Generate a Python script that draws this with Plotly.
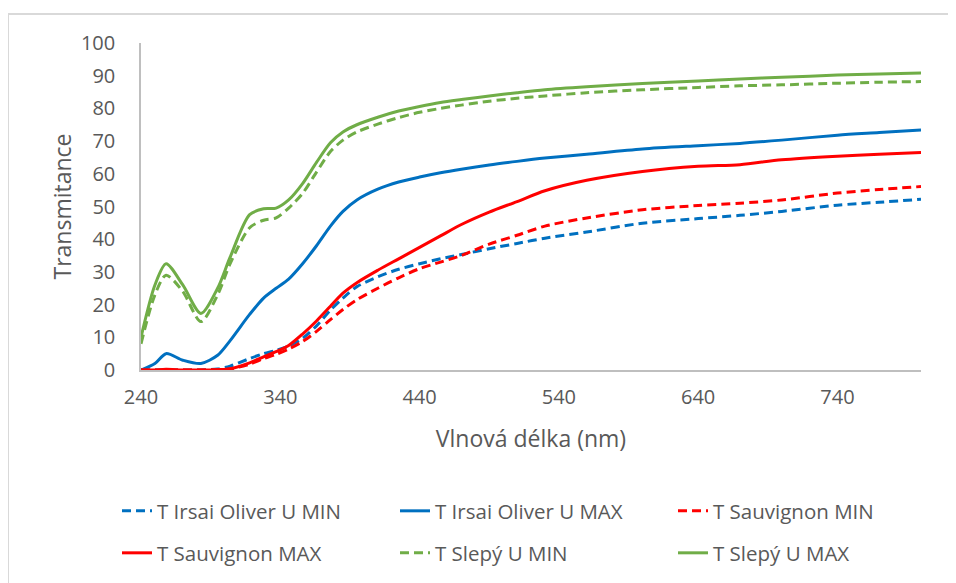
import plotly.graph_objects as go

# Wavelength grid (nm)
wavelength = [240, 250, 258, 270, 283, 295, 304, 318, 328, 337, 346, 356, 366, 376, 385, 395,
              410, 425, 440, 455, 470, 490, 510, 530, 560, 600, 640, 670, 700, 740, 770, 800]

irsai_min = [0, 0, 0, 0, 0, 0.3, 1.2, 3.5, 5.0, 6.0, 7.3, 9.7, 13.5, 18.3, 22.0, 25.5,
             28.5, 30.8, 32.5, 34.0, 35.3, 37.1, 38.7, 40.3, 42.2, 44.9, 46.3, 47.3, 48.5, 50.4, 51.3, 52.2]
irsai_max = [0, 2.0, 5.0, 3.0, 2.0, 4.5, 9.0, 17.0, 22.0, 25.0, 27.8, 32.5, 38.0, 44.0, 48.5, 52.0,
             55.3, 57.5, 59.0, 60.3, 61.4, 62.7, 63.8, 64.8, 66.0, 67.6, 68.6, 69.3, 70.3, 71.8, 72.6, 73.4]
sauv_min = [0, 0, 0, 0, 0, 0.1, 0.3, 1.8, 3.5, 4.8, 6.4, 8.7, 11.8, 15.4, 18.5, 21.5,
            25.0, 28.2, 31.0, 33.0, 35.0, 38.5, 41.2, 44.0, 46.5, 49.0, 50.3, 51.0, 52.0, 54.1, 55.2, 56.1]
sauv_max = [0, 0, 0.2, 0, 0, 0.1, 0.4, 2.2, 4.0, 5.6, 7.5, 11.0, 15.0, 19.5, 23.5, 26.7,
            30.5, 34.0, 37.5, 41.0, 44.5, 48.3, 51.5, 54.8, 58.0, 60.7, 62.3, 62.8, 64.3, 65.4, 66.0, 66.5]
slepy_min = [8.0, 23.0, 29.0, 24.0, 14.8, 23.0, 32.5, 43.5, 45.8, 46.5, 49.5, 54.0, 60.5, 66.8, 70.3, 72.8,
             75.2, 77.2, 78.8, 80.0, 81.0, 82.2, 83.1, 83.8, 84.8, 85.7, 86.4, 86.9, 87.2, 87.7, 88.0, 88.2]
slepy_max = [10.0, 26.0, 32.5, 26.0, 17.3, 25.0, 34.5, 47.5, 49.3, 49.5, 52.0, 57.0, 63.5, 69.5, 72.8, 75.0,
             77.3, 79.2, 80.6, 81.8, 82.7, 83.8, 84.8, 85.7, 86.6, 87.6, 88.4, 89.0, 89.5, 90.2, 90.5, 90.8]

x_ticks = [240, 340, 440, 540, 640, 740]
y_ticks = list(range(0, 101, 10))

BLUE = "#0070C0"
RED = "#FF0000"
GREEN = "#70AD47"
DASH = "9px,5px"
FONT = "Open Sans"
TXT = "#595959"

# The page body has an 8px default margin; the figure is sized to fill the rest of the window.
OFF = 8
W, H = 956 - OFF, 583 - OFF
L, R, T, B = 141 - OFF, 35, 43 - OFF, 213
pw, ph = W - L - R, H - T - B

def px_x(p):  # page pixel -> paper x
    return (p - OFF - L) / pw

def px_y(p):  # page pixel -> paper y
    return (H - B - (p - OFF)) / ph

# (name, values, colour, dash, legend text left x px, legend row centre y px)
series = [
    ("T Irsai Oliver U MIN", irsai_min, BLUE, DASH, 157, 511),
    ("T Irsai Oliver U MAX", irsai_max, BLUE, "solid", 435, 511),
    ("T Sauvignon MIN", sauv_min, RED, DASH, 713, 511),
    ("T Sauvignon MAX", sauv_max, RED, "solid", 157, 553),
    ("T Slepý U MIN", slepy_min, GREEN, DASH, 435, 553),
    ("T Slepý U MAX", slepy_max, GREEN, "solid", 713, 553),
]

fig = go.Figure()
legends = {}
for i, (name, vals, col, dash, lx, ly) in enumerate(series):
    key = f"legend{i + 2}"
    fig.add_trace(go.Scatter(
        x=wavelength, y=vals, name=name, mode="lines", legend=key,
        line=dict(color=col, width=3, dash=dash, shape="spline", smoothing=0.8),
    ))
    legends[key] = dict(
        x=px_x(lx - 40), y=px_y(ly), xanchor="left", yanchor="middle",
        orientation="h", font=dict(family=FONT, size=20.5, color=TXT),
        bgcolor="rgba(0,0,0,0)", itemwidth=30,
    )

border = dict(color="#D9D9D9", width=2)
fig.update_layout(
    width=W, height=H,
    margin=dict(l=L, r=R, t=T, b=B, autoexpand=False),
    paper_bgcolor="white", plot_bgcolor="white",
    font=dict(family=FONT, color=TXT),
    showlegend=True,
    xaxis=dict(
        range=[240, 800], tickvals=x_ticks, ticktext=[str(v) for v in x_ticks],
        showgrid=False, zeroline=False, showline=True, linecolor="#BFBFBF", linewidth=1.5,
        ticks="", ticklabelstandoff=8, tickfont=dict(family=FONT, size=20, color=TXT),
        title=dict(text="Vlnová délka (nm)", font=dict(family=FONT, size=23, color=TXT), standoff=22),
    ),
    yaxis=dict(
        range=[0, 100], tickvals=y_ticks,
        showgrid=False, zeroline=False, showline=True, linecolor="#BFBFBF", linewidth=1.5,
        ticks="", ticklabelstandoff=20, tickfont=dict(family=FONT, size=20, color=TXT),
        title=dict(text="Transmitance", font=dict(family=FONT, size=23, color=TXT), standoff=3),
    ),
    shapes=[
        dict(type="line", xref="paper", yref="paper",
             x0=px_x(8), x1=px_x(8), y0=px_y(583), y1=px_y(14), line=border, layer="below"),
        dict(type="line", xref="paper", yref="paper",
             x0=px_x(8), x1=px_x(956), y0=px_y(14), y1=px_y(14), line=border, layer="below"),
    ],
    **legends,
)

fig.write_html("out.html")
